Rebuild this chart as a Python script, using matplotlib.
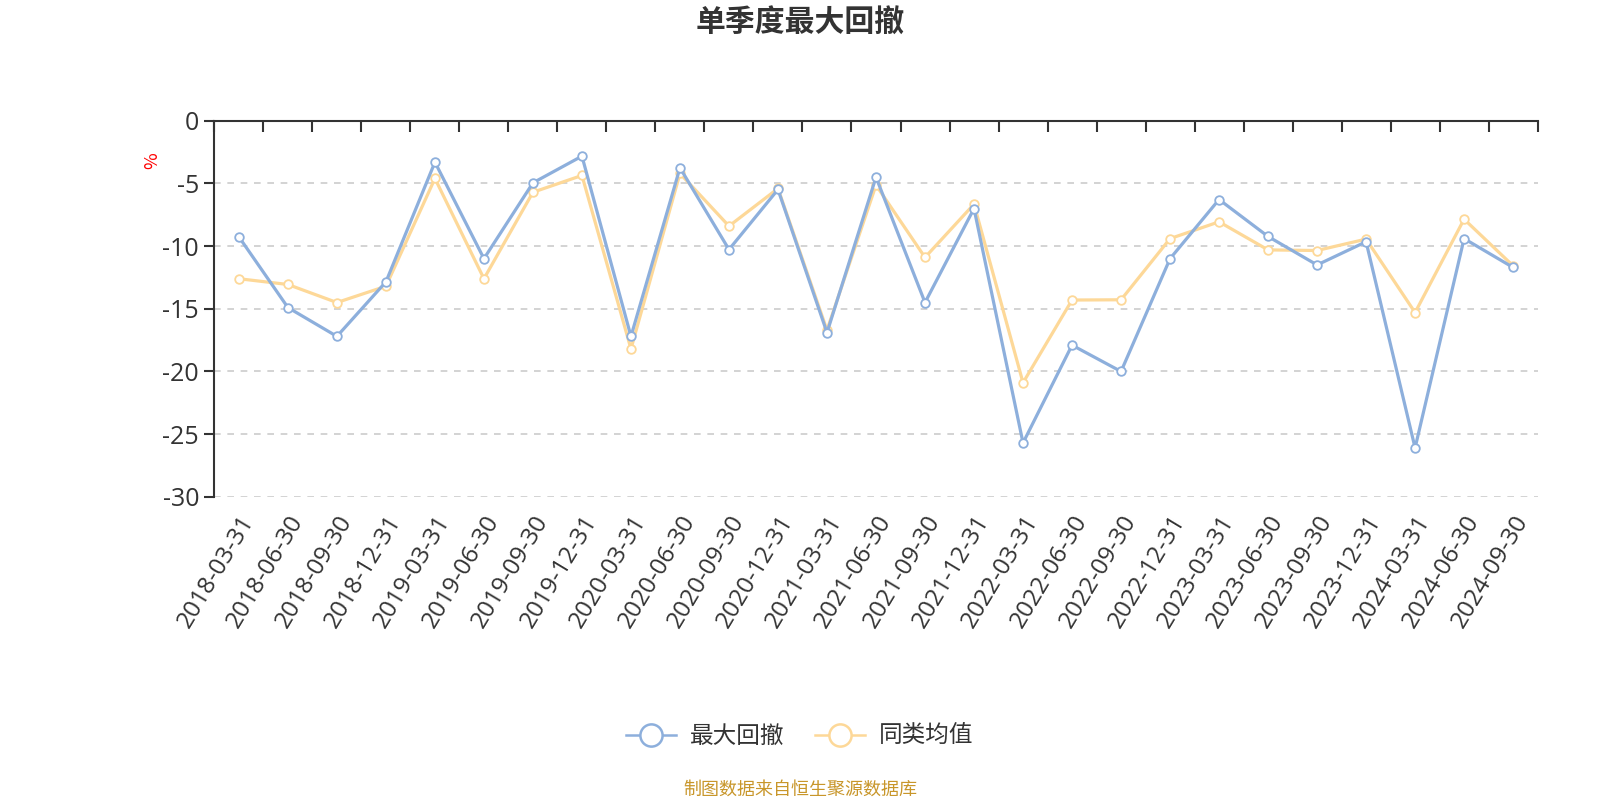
import numpy as np
import matplotlib
matplotlib.use("Agg")
import matplotlib.pyplot as plt
from matplotlib.lines import Line2D

plt.rcParams['font.family'] = ['Noto Sans CJK SC', 'DejaVu Sans']
plt.rcParams['axes.unicode_minus'] = False

dates = ['2018-03-31', '2018-06-30', '2018-09-30', '2018-12-31',
         '2019-03-31', '2019-06-30', '2019-09-30', '2019-12-31',
         '2020-03-31', '2020-06-30', '2020-09-30', '2020-12-31',
         '2021-03-31', '2021-06-30', '2021-09-30', '2021-12-31',
         '2022-03-31', '2022-06-30', '2022-09-30', '2022-12-31',
         '2023-03-31', '2023-06-30', '2023-09-30', '2023-12-31',
         '2024-03-31', '2024-06-30', '2024-09-30']
max_dd = [-9.26, -14.9, -17.2, -12.85, -3.3, -11.0, -4.95, -2.82,
          -17.2, -3.75, -10.27, -5.48, -16.9, -4.5, -14.5, -7.0,
          -25.7, -17.9, -20.0, -11.0, -6.28, -9.23, -11.5, -9.65,
          -26.1, -9.4, -11.7]
peer_avg = [-12.6, -13.06, -14.5, -13.2, -4.6, -12.6, -5.7, -4.36,
            -18.2, -4.2, -8.4, -5.4, -16.7, -5.13, -10.9, -6.65,
            -20.9, -14.3, -14.28, -9.4, -8.06, -10.3, -10.35, -9.44,
            -15.3, -7.85, -11.57]
yticks = [0, -5, -10, -15, -20, -25, -30]

blue = '#8dafdc'
orange = '#fdd898'
tick_font = ['Open Sans', 'Noto Sans CJK SC']

fig = plt.figure(figsize=(16, 8), dpi=100)
ax = fig.add_axes([0.134, 0.379, 0.827, 0.470])

x = np.arange(len(dates))
ax.plot(x, peer_avg, color=orange, lw=2.3, marker='o', ms=6.2,
        mfc='white', mec=orange, mew=1.3, zorder=3)
ax.plot(x, max_dd, color=blue, lw=2.3, marker='o', ms=6.2,
        mfc='white', mec=blue, mew=1.3, zorder=4)

ax.set_xlim(-0.5, len(dates) - 0.5)
ax.set_ylim(-30, 0)
ax.set_yticks(yticks)
ax.set_yticklabels([str(v) for v in yticks], family=tick_font,
                   fontsize=18, color='#333333')
ax.yaxis.grid(True, ls=(0, (4, 4)), color='#cccccc', lw=1.2)
ax.set_axisbelow(True)

for s in ['right', 'bottom']:
    ax.spines[s].set_visible(False)
for s in ['top', 'left']:
    ax.spines[s].set_color('#333333')
    ax.spines[s].set_linewidth(1.5)

ax.set_xticks(x)
ax.set_xticklabels(dates, rotation=59, ha='right', va='top',
                   rotation_mode='anchor', fontsize=17.5, color='#333333',
                   family=tick_font)
ax.set_xticks(np.arange(-0.5, len(dates), 1), minor=True)
ax.tick_params(axis='x', which='major', length=0, pad=10)
ax.tick_params(axis='x', which='minor', top=True, bottom=False,
               direction='in', length=8, width=1.5, color='#333333')
ax.tick_params(axis='y', length=7, width=1.5, color='#333333', pad=4)

ax.set_ylabel('%', color='red', fontsize=13)
ax.yaxis.set_label_coords(-0.04, 0.893)

fig.text(0.5, 0.972, '单季度最大回撤', ha='center', va='center',
         fontsize=21.5, fontweight='bold', color='#333333')

handles = [Line2D([], [], color=blue, lw=1.8, marker='o', ms=16,
                  mfc='white', mec=blue, mew=1.8),
           Line2D([], [], color=orange, lw=1.8, marker='o', ms=16,
                  mfc='white', mec=orange, mew=1.8)]
fig.legend(handles, ['最大回撤', '同类均值'], loc='center',
           bbox_to_anchor=(0.5, 0.079), ncol=2, frameon=False,
           fontsize=17, handlelength=2.1, columnspacing=1.3,
           handletextpad=0.6, labelcolor='#333333')

fig.text(0.5, 0.0125, '制图数据来自恒生聚源数据库', ha='center', va='center',
         fontsize=13, color='#c8962a')

fig.savefig('out.png', dpi=100)
